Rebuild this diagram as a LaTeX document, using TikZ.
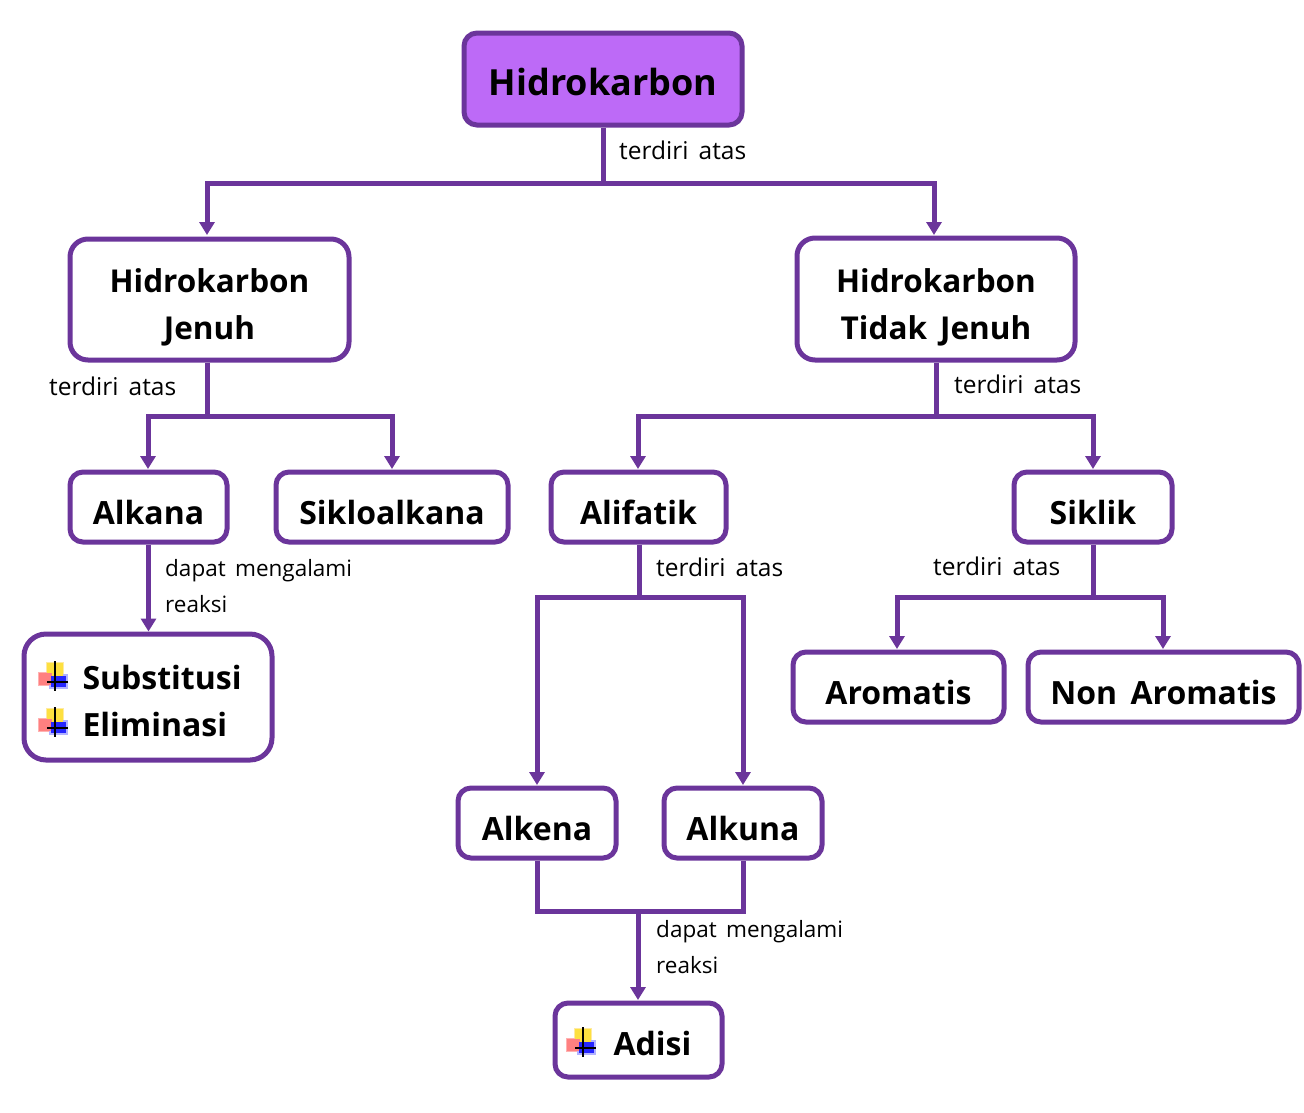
\documentclass[tikz,border=0pt]{standalone}
\usepackage{fontspec}
\setmainfont{Open Sans}[WordSpace=1.6]
\usetikzlibrary{arrows.meta}
\definecolor{ungu}{RGB}{107,53,155}
\definecolor{unguisi}{RGB}{189,106,247}
\tikzset{
	kotak/.style={draw=ungu, line width=5pt, fill=white, rounded corners=13pt, align=center,
		inner sep=0pt, font=\fontsize{32}{47}\selectfont\bfseries},
	garis/.style={draw=ungu, line width=5pt},
	panah/.style={garis, -{Triangle[length=13pt,width=15pt]}},
	ket/.style={inner sep=0pt, anchor=west, font=\fontsize{24.5}{36}\selectfont, align=left},
	ketb/.style={ket, font=\fontsize{22.5}{36}\selectfont},
}
\newcommand{\turun}[2]{\raisebox{-#1}[\height][\depth]{#2}}
\newcommand{\tanda}[1]{%
	\fill[yellow!60!orange!35!white] (#1)+(-8,-14) rectangle +(10,7);
	\fill[red!30!white] (#1)+(-16,-4) rectangle +(0,10);
	\fill[blue!30!white] (#1)+(-5,-2) rectangle +(14,13);
	\fill[yellow!75!orange!75!white] (#1)+(-7,-13) rectangle +(9,5);
	\fill[red!50!white] (#1)+(-15,-3) rectangle +(-2,9);
	\fill[blue!85!white] (#1)+(-3,0) rectangle +(12,11);
	\draw[black, line width=1.6pt] (#1)+(1,-15) -- +(1,15) (#1)+(-7,6) -- +(14,6);
}
\begin{document}
\begin{tikzpicture}[x=1pt, y=-1pt]
	\useasboundingbox (0,0) rectangle (1304,1112);
	%\draw[help lines] (0,0) grid (1304,1112);

	\node[kotak, fill=unguisi, minimum width=278pt, minimum height=92pt, font=\fontsize{36}{47}\selectfont\bfseries] (root) at (603,79) {\turun{3pt}{Hidrokarbon}};
	\node[kotak, rounded corners=18pt, minimum width=279pt, minimum height=121pt, font=\fontsize{31.5}{47}\selectfont\bfseries] (jenuh) at (209.5,299.5) {\turun{8pt}{Hidrokarbon}\\\turun{8pt}{Jenuh}};
	\node[kotak, rounded corners=18pt, minimum width=278pt, minimum height=122pt, font=\fontsize{31.5}{47}\selectfont\bfseries] (tjenuh) at (936,299) {\turun{8pt}{Hidrokarbon}\\\turun{8pt}{Tidak Jenuh}};

	\foreach \n\s\w\x\y in {alkana/Alkana/157/148.5/507, siklo/Sikloalkana/232/392/507,
		alifatik/Alifatik/175/638.5/507, siklik/Siklik/158/1093/507,
		aromatis/Aromatis/211/898.5/687, nonarom/Non Aromatis/271/1163.5/687,
		alkena/Alkena/158/537/823, alkuna/Alkuna/158/743/823}
	\node[kotak, minimum width=\w pt, minimum height=70pt] (\n) at (\x,\y) {\turun{5.5pt}{\s}};

	\node[kotak, rounded corners=22pt, minimum width=248pt, minimum height=126pt] (reaksi) at (148,697) {};
	\node[kotak, minimum width=167pt, minimum height=74pt] (adisi) at (638.5,1040) {};

	\tanda{54,676}
	\tanda{54,722}
	\tanda{582,1042}
	\node[kotak, draw=none, fill=none, anchor=west] (substitusi) at (80,677) {Substitusi};
	\node[kotak, draw=none, fill=none, anchor=west] (eliminasi) at (80,724) {Eliminasi};
	\node[kotak, draw=none, fill=none, anchor=west] (adisiteks) at (611,1043) {Adisi};

	% titik belok
	\coordinate (a0) at (603,183);
	\coordinate (a1) at (207,183);
	\coordinate (a2) at (934,183);
	\coordinate (a3) at (207,235);
	\coordinate (a4) at (934,235);
	\coordinate (b0) at (207,416);
	\coordinate (b1) at (148,416);
	\coordinate (b2) at (392,416);
	\coordinate (b3) at (148,469);
	\coordinate (b4) at (392,469);
	\coordinate (c0) at (936,416);
	\coordinate (c1) at (638,416);
	\coordinate (c2) at (1093,416);
	\coordinate (c3) at (638,469);
	\coordinate (c4) at (1093,469);
	\coordinate (d0) at (639,597);
	\coordinate (d1) at (537,597);
	\coordinate (d2) at (743,597);
	\coordinate (d3) at (537,785);
	\coordinate (d4) at (743,785);
	\coordinate (e0) at (1093,597);
	\coordinate (e1) at (897,597);
	\coordinate (e2) at (1163,597);
	\coordinate (e3) at (897,649);
	\coordinate (e4) at (1163,649);
	\coordinate (f0) at (537,911);
	\coordinate (f1) at (743,911);
	\coordinate (f2) at (638,911);
	\coordinate (f3) at (638,1000);

	\draw[garis] (root.south -| a0) -- (a0);
	\draw[panah] (a0) -- (a1) -- (a3);
	\draw[panah] (a0) -- (a2) -- (a4);
	\draw[garis] (jenuh.south -| b0) -- (b0);
	\draw[panah] (b0) -- (b1) -- (b3);
	\draw[panah] (b0) -- (b2) -- (b4);
	\draw[garis] (tjenuh.south -| c0) -- (c0);
	\draw[panah] (c0) -- (c1) -- (c3);
	\draw[panah] (c0) -- (c2) -- (c4);
	\draw[panah] (alkana.south) -- (reaksi.north -| alkana.south);
	\draw[garis] (alifatik.south -| d0) -- (d0);
	\draw[panah] (d0) -- (d1) -- (d3);
	\draw[panah] (d0) -- (d2) -- (d4);
	\draw[garis] (siklik.south -| e0) -- (e0);
	\draw[panah] (e0) -- (e1) -- (e3);
	\draw[panah] (e0) -- (e2) -- (e4);
	\draw[garis] (alkena.south) -- (f0) -- (f1) -- (alkuna.south);
	\draw[panah] (f2) -- (f3);

	\node[ket] (k1) at (619,150) {terdiri atas};
	\node[ket] (k2) at (49,386) {terdiri atas};
	\node[ket] (k3) at (954,384) {terdiri atas};
	\node[ket] (k4) at (656,567) {terdiri atas};
	\node[ket] (k5) at (933,566) {terdiri atas};
	\node[ketb] (k6) at (165,586) {dapat mengalami\\reaksi};
	\node[ketb] (k7) at (656,947) {dapat mengalami\\reaksi};
\end{tikzpicture}
\end{document}
